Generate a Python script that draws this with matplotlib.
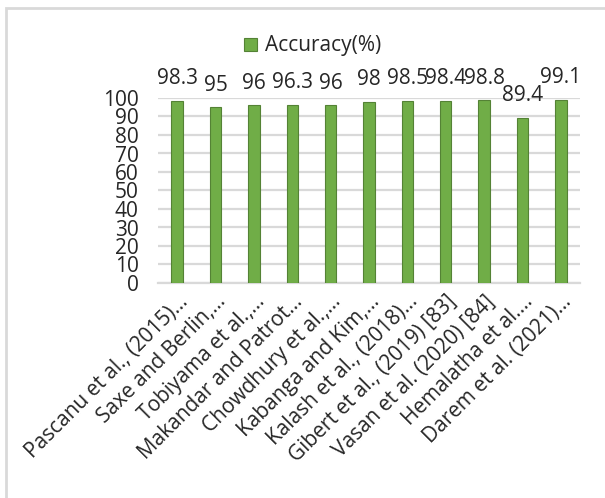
import matplotlib
matplotlib.use("Agg")
import matplotlib.pyplot as plt
from matplotlib.patches import Rectangle

studies = [
    "Pascanu et al., (2015)…",
    "Saxe and Berlin,…",
    "Tobiyama et al.,…",
    "Makandar and Patrot…",
    "Chowdhury et al.,…",
    "Kabanga and Kim,…",
    "Kalash et al., (2018)…",
    "Gibert et al., (2019) [83]",
    "Vasan et al. (2020) [84]",
    "Hemalatha et al.…",
    "Darem et al. (2021)…",
]
accuracy = [98.3, 95, 96, 96.3, 96, 98, 98.5, 98.4, 98.8, 89.4, 99.1]
value_labels = ["98.3", "95", "96", "96.3", "96", "98", "98.5", "98.4", "98.8", "89.4", "99.1"]
y_ticks = [0, 10, 20, 30, 40, 50, 60, 70, 80, 90, 100]

plt.rcParams["font.family"] = ["Open Sans", "DejaVu Sans"]
FONT_SIZE = 15
TEXT = "#262626"
GRID = "#d9d9d9"
BAR = "#70ad47"
BAR_EDGE = "#548235"

fig = plt.figure(figsize=(6.05, 4.98), dpi=100)
fig.patch.set_facecolor("white")

# light chart-area frame
fig.patches.append(Rectangle((6 / 605, -0.05), 1.2, (498 - 8) / 498 + 0.05,
                             transform=fig.transFigure, fill=False,
                             edgecolor=GRID, linewidth=2, zorder=0))

ax = fig.add_axes([158 / 605, 1 - 283 / 498, (580 - 158) / 605, (283 - 98) / 498])
x = range(len(studies))
bars = ax.bar(x, accuracy, width=0.3, color=BAR, edgecolor=BAR_EDGE,
              linewidth=0.8, label="Accuracy(%)", zorder=3)

for xi, v, lab in zip(x, accuracy, value_labels):
    ax.annotate(lab, (xi, v), xytext=(0, 12), textcoords="offset points",
                ha="center", va="baseline", fontsize=FONT_SIZE, color=TEXT,
                annotation_clip=False)

ax.set_ylim(0, 100)
ax.set_xlim(-0.5, len(studies) - 0.5)
ax.set_yticks(y_ticks)
ax.set_yticklabels([str(t) for t in y_ticks], fontsize=FONT_SIZE, color=TEXT)
ax.yaxis.grid(True, color=GRID, linewidth=1.6, zorder=0)
ax.set_axisbelow(True)

ax.set_xticks(list(x))
ax.set_xticklabels(studies, rotation=45, ha="right", rotation_mode="anchor",
                   fontsize=FONT_SIZE, color=TEXT)
ax.tick_params(axis="both", length=0)
ax.tick_params(axis="y", pad=14)
ax.tick_params(axis="x", pad=6)

for side in ["top", "right", "left"]:
    ax.spines[side].set_visible(False)
ax.spines["bottom"].set_color(GRID)
ax.spines["bottom"].set_linewidth(1.6)

fig.legend(handles=[bars], labels=["Accuracy(%)"], loc="center",
           bbox_to_anchor=(313 / 605, 1 - 46 / 498), frameon=False,
           fontsize=FONT_SIZE, handlelength=0.6, handleheight=0.6,
           handletextpad=0.4, labelcolor=TEXT)

fig.savefig("out.png", dpi=100, facecolor="white")
